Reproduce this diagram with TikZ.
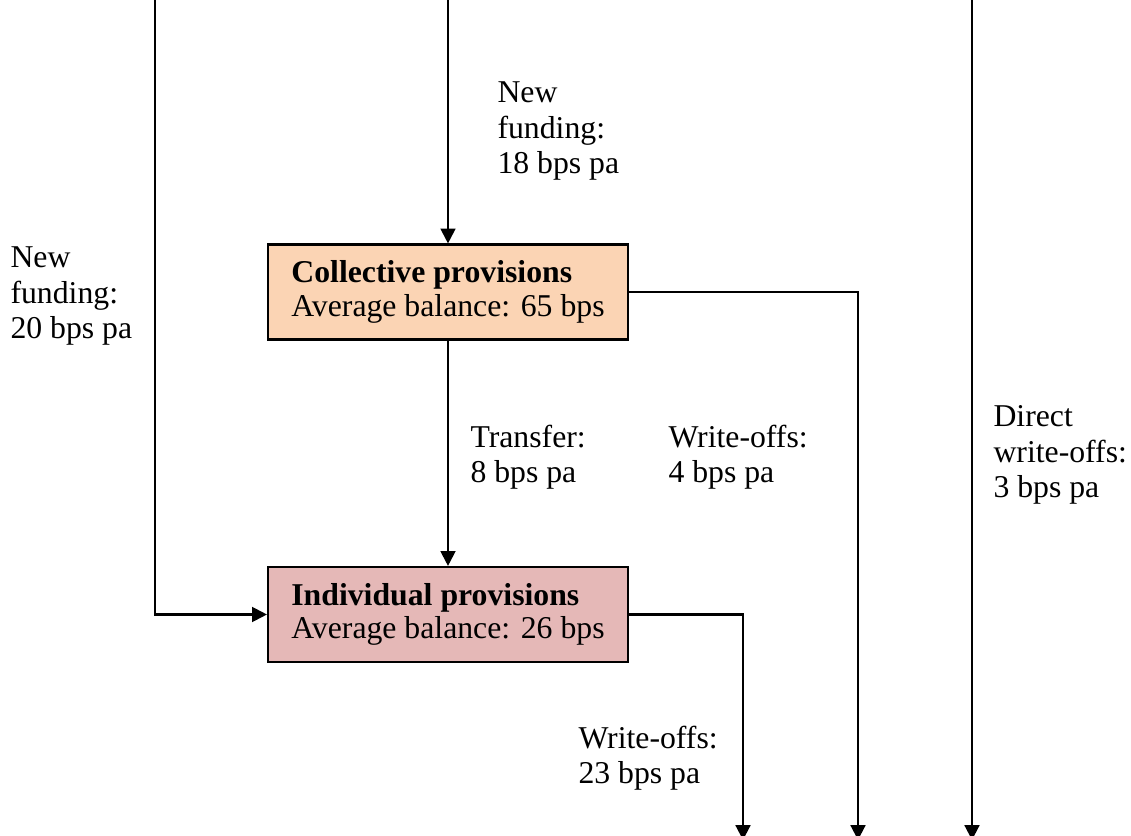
\documentclass[tikz,border=0pt]{standalone}
\usepackage{fontspec}
\setmainfont{Liberation Serif}
\usetikzlibrary{arrows.meta}
\definecolor{peach}{RGB}{251,212,180}
\definecolor{rose}{RGB}{229,184,183}
\begin{document}
\begin{tikzpicture}[x=0.378pt,y=-0.378pt,
  txt/.style={font=\fontsize{12}{13.4}\selectfont, align=left, inner sep=0pt, anchor=west},
  provbox/.style={draw=black, line width=0.8pt, minimum width=360*0.378pt, minimum height=95*0.378pt,
    inner sep=0pt, align=left,
    font=\fontsize{12}{12.6}\selectfont},
  flow/.style={line width=0.8pt, -{Triangle[length=5.6pt,width=5.6pt]}},
  wire/.style={line width=0.8pt}]
\useasboundingbox (0,0) rectangle (1131,836);
% boxes
\node[provbox, fill=peach] (coll) at (448,292) {\textbf{Collective provisions}\\Average balance: 65 bps};
\node[provbox, fill=rose] (ind) at (448,614.5) {\textbf{Individual provisions}\\Average balance: 26 bps};
% coordinates
\coordinate (topC) at (448,-2);
\coordinate (topL) at (155,-2);
\coordinate (cornerL) at (155,614.5);
\coordinate (topR) at (972,-2);
\coordinate (botR) at (972,840);
\coordinate (cornerW) at (858,292);
\coordinate (botW) at (858,840);
\coordinate (cornerI) at (743,614.5);
\coordinate (botI) at (743,840);
% connectors
\draw[flow] (topC) -- (coll.north);
\draw[flow] (coll.south) -- (ind.north);
\draw[flow] (topL) -- (cornerL) -- (ind.west);
\draw[flow] (topR) -- (botR);
\draw[flow] (coll.east) -- (cornerW) -- (botW);
\draw[flow] (ind.east) -- (cornerI) -- (botI);
% labels
\node[txt] (l1) at (497,131) {New\\funding:\\18 bps pa};
\node[txt] (l2) at (10,296) {New\\funding:\\20 bps pa};
\node[txt] (l3) at (470,457) {Transfer:\\8 bps pa};
\node[txt] (l4) at (668,457) {Write-offs:\\4 bps pa};
\node[txt] (l5) at (993,455) {Direct\\write-offs:\\3 bps pa};
\node[txt] (l6) at (578,758) {Write-offs:\\23 bps pa};
\end{tikzpicture}
\end{document}
